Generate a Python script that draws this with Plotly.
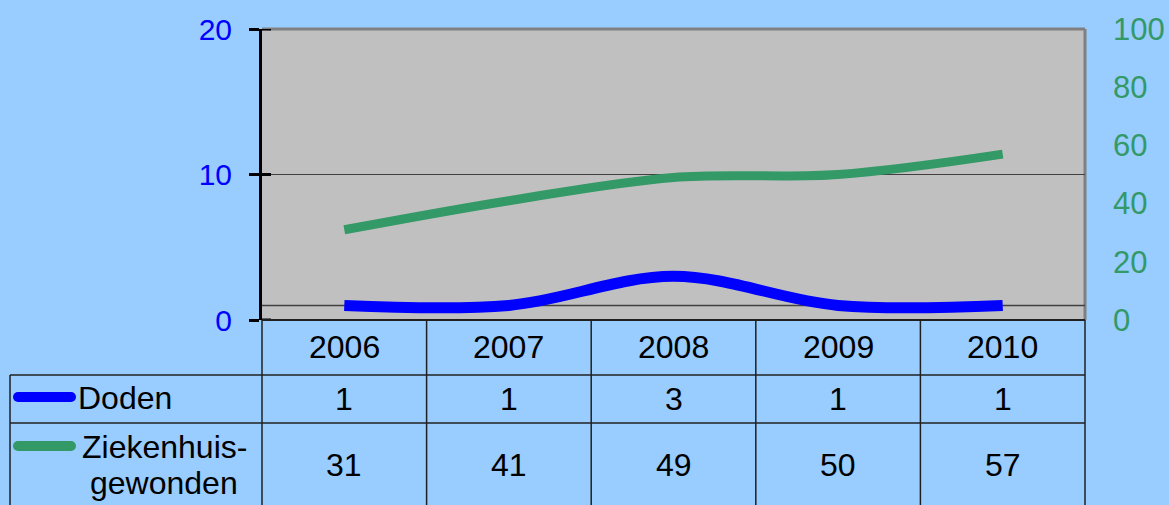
import plotly.graph_objects as go

years = ["2006", "2007", "2008", "2009", "2010"]
doden = [1, 1, 3, 1, 1]
gewonden = [31, 41, 49, 50, 57]
series_names = ["Doden", "Ziekenhuis-<br>gewonden"]
left_ticks = [0, 10, 20]
right_ticks = [0, 20, 40, 60, 80, 100]

W, H = 1169, 505
L, R, T, B = 262, 1085, 29, 320
BLUE = "#0000FF"
GREEN = "#339966"
FONT = "Arial, Liberation Sans, sans-serif"


def px(x):
    return (x - L) / (R - L)


def py(y):
    return (B - y) / (B - T)


fig = go.Figure()
fig.add_trace(go.Scatter(x=list(range(len(years))), y=doden, mode="lines",
                         line=dict(color=BLUE, width=11, shape="spline", smoothing=1.0),
                         name="Doden", yaxis="y", hoverinfo="skip"))
fig.add_trace(go.Scatter(x=list(range(len(years))), y=gewonden, mode="lines",
                         line=dict(color=GREEN, width=9, shape="spline", smoothing=1.0),
                         name="Ziekenhuisgewonden", yaxis="y2", hoverinfo="skip"))

shapes = []
# plot area border (top and right gray)
shapes.append(dict(type="line", xref="paper", yref="paper", x0=0, x1=1, y0=1, y1=1,
                   line=dict(color="#808080", width=3), layer="below"))
shapes.append(dict(type="line", xref="paper", yref="paper", x0=1, x1=1, y0=0, y1=1,
                   line=dict(color="#808080", width=3), layer="below"))
# horizontal line at 1
shapes.append(dict(type="line", xref="paper", yref="y", x0=0, x1=1, y0=1, y1=1,
                   line=dict(color="#404040", width=1.5), layer="below"))
# inner parts of left tick marks
for v in left_ticks:
    shapes.append(dict(type="line", xref="paper", yref="y", x0=0, x1=px(L + 9), y0=v, y1=v,
                       line=dict(color="black", width=3)))
# bottom axis line
shapes.append(dict(type="line", xref="paper", yref="paper", x0=0, x1=1, y0=0, y1=0,
                   line=dict(color="#202020", width=2)))

# table lines
col_edges = [L + i * (R - L) / 5 for i in range(6)]
for i, xe in enumerate(col_edges):
    shapes.append(dict(type="line", xref="paper", yref="paper", x0=px(xe), x1=px(xe),
                       y0=py(B), y1=py(H + 5), line=dict(color="#202020", width=1.5)))
shapes.append(dict(type="line", xref="paper", yref="paper", x0=px(10), x1=px(10),
                   y0=py(375), y1=py(H + 5), line=dict(color="#202020", width=1.5)))
for yl in [375, 423]:
    shapes.append(dict(type="line", xref="paper", yref="paper", x0=px(10), x1=1,
                       y0=py(yl), y1=py(yl), line=dict(color="#202020", width=1.5)))
# legend keys with rounded ends
for yk, c in [(397, BLUE), (446, GREEN)]:
    shapes.append(dict(type="line", xref="paper", yref="paper", x0=px(18), x1=px(71),
                       y0=py(yk), y1=py(yk), line=dict(color=c, width=10)))
    for xc in (18, 71):
        shapes.append(dict(type="circle", xref="paper", yref="paper",
                           x0=px(xc - 5), x1=px(xc + 5), y0=py(yk + 5), y1=py(yk - 5),
                           fillcolor=c, line=dict(width=0)))

annotations = []
tf = dict(family=FONT, size=32, color="black")
centers = [(col_edges[i] + col_edges[i + 1]) / 2 for i in range(5)]
for i, yr in enumerate(years):
    annotations.append(dict(xref="paper", yref="paper", x=px(centers[i]), y=py(347), text=yr,
                            showarrow=False, font=tf, xanchor="center", yanchor="middle"))
    annotations.append(dict(xref="paper", yref="paper", x=px(centers[i]), y=py(399), text=str(doden[i]),
                            showarrow=False, font=tf, xanchor="center", yanchor="middle"))
    annotations.append(dict(xref="paper", yref="paper", x=px(centers[i]), y=py(465), text=str(gewonden[i]),
                            showarrow=False, font=tf, xanchor="center", yanchor="middle"))
annotations.append(dict(xref="paper", yref="paper", x=px(76), y=py(398), text=series_names[0],
                        showarrow=False, font=tf, xanchor="left", yanchor="middle"))
for part, yl in zip(series_names[1].split("<br>"), (447, 483)):
    annotations.append(dict(xref="paper", yref="paper", x=px(164), y=py(yl), text=part,
                            showarrow=False, font=tf, xanchor="center", yanchor="middle"))

fig.update_layout(
    width=W, height=H,
    margin=dict(l=L, r=W - R, t=T, b=H - B, pad=0, autoexpand=False),
    paper_bgcolor="#99CCFF",
    plot_bgcolor="#C0C0C0",
    showlegend=False,
    xaxis=dict(range=[-0.5, 4.5], showticklabels=False, showgrid=False, zeroline=False,
               showline=False, ticks="", automargin=False),
    yaxis=dict(range=[0, 20], tickvals=left_ticks, showgrid=True, gridcolor="#404040", gridwidth=1,
               zeroline=False, showline=True, linecolor="black", linewidth=3,
               ticks="outside", ticklen=10, tickwidth=3, tickcolor="black", automargin=False,
               tickfont=dict(family=FONT, size=30, color=BLUE), ticklabelstandoff=11),
    yaxis2=dict(range=[0, 100], tickvals=right_ticks, overlaying="y", side="right",
                showgrid=False, zeroline=False, showline=False, ticks="", automargin=False,
                tickfont=dict(family=FONT, size=31, color=GREEN), ticklabelstandoff=27),
    shapes=shapes,
    annotations=annotations,
)

fig.write_html("out.html", config={"displayModeBar": False, "staticPlot": True},
               post_script="document.body.style.margin='0';document.body.style.overflow='hidden';")
